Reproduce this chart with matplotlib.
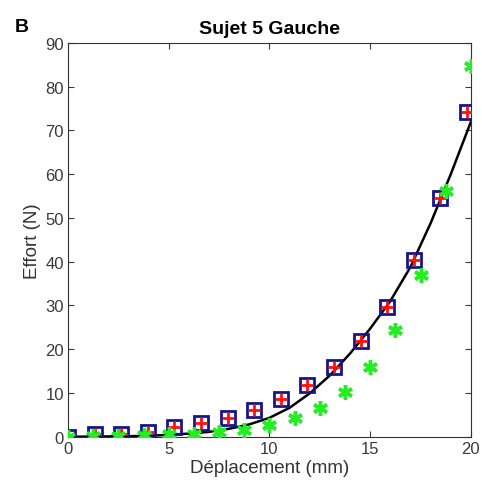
import matplotlib.pyplot as plt
import numpy as np

plt.rcParams['font.family'] = ['Liberation Sans', 'DejaVu Sans']

# measured points (squares with red plus)
x_mes = [0, 1.32, 2.64, 3.96, 5.28, 6.6, 7.92, 9.24, 10.56, 11.88, 13.2, 14.52, 15.84, 17.16, 18.48, 19.8]
y_mes = [0, 0.5, 0.6, 1.1, 2.1, 3.1, 4.3, 6.2, 8.5, 11.8, 16.0, 21.9, 29.7, 40.4, 54.5, 74.2]

# second series (green stars)
x_sim = [0, 1.25, 2.5, 3.75, 5, 6.25, 7.5, 8.75, 10, 11.25, 12.5, 13.75, 15, 16.25, 17.5, 18.75, 20]
y_sim = [0, 0.1, 0.2, 0.3, 0.5, 0.7, 1.1, 1.6, 2.6, 4.3, 6.6, 10.3, 15.9, 24.3, 37.0, 56.2, 84.8]

# fitted curve (black line)
x_fit = [0, 1, 2, 3, 4, 5, 6, 7, 8, 9, 10, 11, 12, 13, 14, 15, 16, 17, 18, 19, 20]
y_fit = [0, 0, 0.05, 0.1, 0.2, 0.4, 0.7, 1.1, 1.8, 2.8, 4.3, 6.6, 9.9, 14.0, 19.0, 24.7, 31.0, 38.8, 48.8, 60.0, 72.0]

fig = plt.figure(figsize=(4.82, 4.89), dpi=100)
ax = fig.add_axes([0.141, 0.105, 0.836, 0.805])

ax.plot(x_fit, y_fit, color='black', linewidth=1.8, zorder=2)
ax.plot(x_mes, y_mes, linestyle='none', marker='s', markersize=9.5,
        markerfacecolor='none', markeredgecolor='#15148f', markeredgewidth=2, zorder=3)
ax.plot(x_mes, y_mes, linestyle='none', marker='+', markersize=8.5,
        color='#ff1010', markeredgewidth=2, zorder=4)
ax.plot(x_sim, y_sim, linestyle='none', marker=(6, 2, 0), markersize=10.5,
        color='#22ee22', markeredgewidth=2.5, zorder=5)

ax.set_xlim(0, 20)
ax.set_ylim(0, 90)
ax.set_xticks([0, 5, 10, 15, 20])
ax.set_yticks(np.arange(0, 91, 10))
ax.tick_params(direction='in', top=True, right=True, length=4, labelsize=12,
               colors='#3a3a3a', pad=3)
for s in ax.spines.values():
    s.set_color('#333333')
ax.set_xlabel('Déplacement (mm)', fontsize=13.5, color='#333333', labelpad=2)
ax.set_ylabel('Effort (N)', fontsize=13.5, color='#333333', labelpad=3)
ax.set_title('Sujet 5 Gauche', fontsize=14, fontweight='bold', pad=7)
fig.text(0.03, 0.934, 'B', fontsize=14, fontweight='bold')

fig.savefig('out.png', dpi=100)
